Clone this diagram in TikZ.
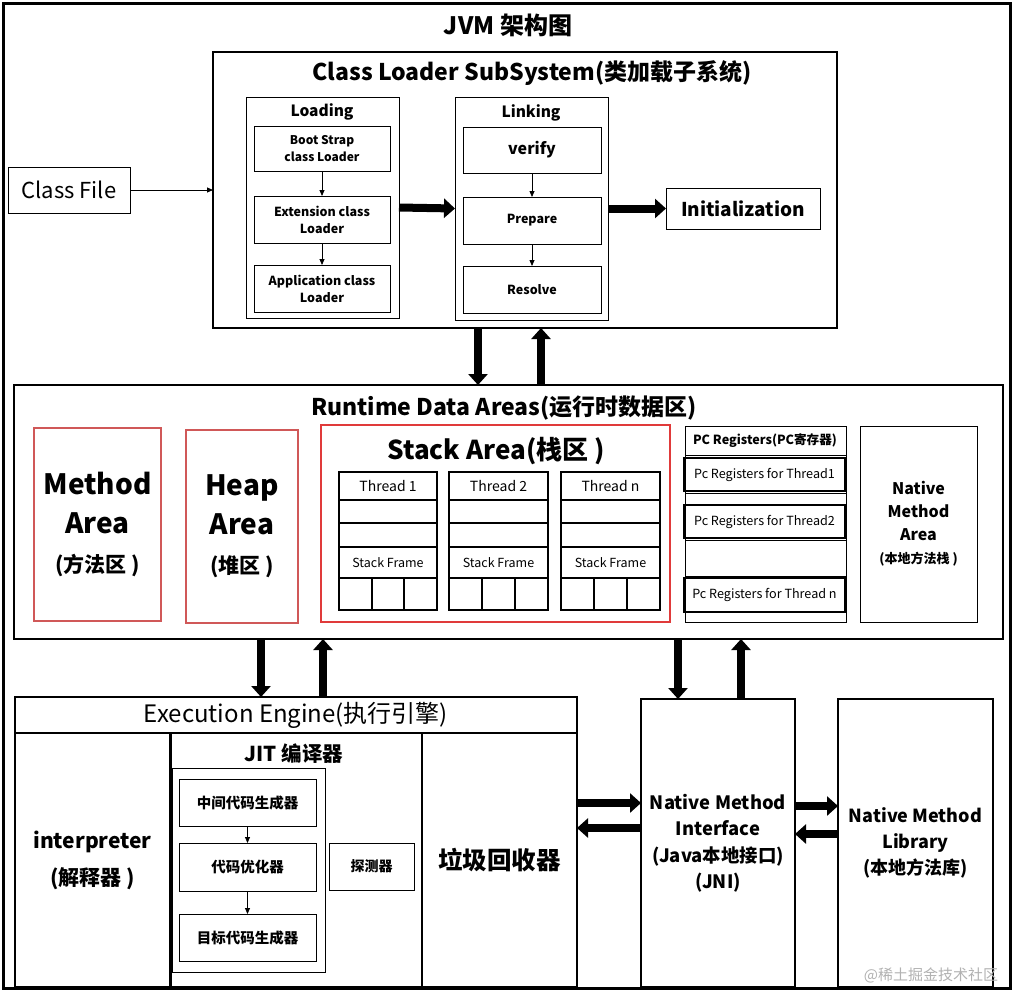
\documentclass[tikz,border=0pt]{standalone}
\usepackage{fontspec}
\setmainfont{Noto Sans CJK SC}
\usetikzlibrary{arrows.meta}
\definecolor{rdk}{HTML}{E03A3A}
\definecolor{rdl}{HTML}{D05858}
\newcommand\fs[2]{\fontsize{#1}{#2}\selectfont}
\newcommand\bxt[7][]{\node[bx,#1,minimum width={#4-#2},minimum height={#5-#3}] (#6) at ({(#2+#4)/2},{(#3+#5)/2}) {#7};}
\newcommand\thr[4]{%
  \pgfmathsetmacro\ca{#2+(#3-#2)/3}%
  \pgfmathsetmacro\cb{#2+2*(#3-#2)/3}%
  \bxt[tb,font=\fs{14}{16}]{#2}{472}{#3}{500}{#1h}{#4}
  \bxt[tb]{#2}{500}{#3}{523}{#1a}{}
  \bxt[tb]{#2}{523}{#3}{547}{#1b}{}
  \bxt[tb,font=\fs{12.5}{15}]{#2}{547}{#3}{578}{#1f}{Stack Frame}
  \bxt[tb]{#2}{578}{\ca}{610}{#1c}{}
  \bxt[tb]{\ca}{578}{\cb}{610}{#1d}{}
  \bxt[tb]{\cb}{578}{#3}{610}{#1e}{}
}
\begin{document}
\begin{tikzpicture}[x=1pt,y=-1pt,
  bx/.style={draw,line width=1pt,inner sep=0pt,outer sep=0pt,align=center},
  bxk/.style={line width=2.5pt},
  tb/.style={line width=2pt},
  redb/.style={draw=rdl,line width=1.3pt},
  redk/.style={draw=rdk,line width=2.2pt},
  big/.style={line width=8pt,-{Triangle[width=19pt,length=11pt]}},
  small/.style={line width=0.8pt,-{Triangle[width=5pt,length=6pt]}},
  lbl/.style={inner sep=0pt,align=center}]
\fill[white] (0,0) rectangle (1017,991);
\useasboundingbox (0,0) rectangle (1017,991);
% outer frame
\bxt[line width=3pt]{3}{3}{1010}{988}{jvm}{}
\node[lbl,font=\fs{24}{28}\bfseries] (title) at (508,25) {JVM 架构图};
% class loader
\bxt[bxk]{213}{52}{837}{328}{cls}{}
\node[lbl,font=\fs{23}{26}\bfseries] (clst) at (532,73) {Class Loader SubSystem(类加载子系统)};
\bxt{246}{97}{399}{318}{load}{}
\node[lbl,font=\fs{15.5}{18}\bfseries] (loadt) at (322,112) {Loading};
\bxt[font=\fs{12}{17}\bfseries]{254}{126}{390}{171}{boot}{Boot Strap\\class Loader}
\bxt[font=\fs{12.5}{17}\bfseries]{254}{196}{390}{243}{ext}{Extension class\\Loader}
\bxt[font=\fs{12.5}{17}\bfseries]{254}{265}{390}{312}{app}{Application class\\Loader}
\bxt{455}{97}{608}{320}{link}{}
\node[lbl,font=\fs{15.5}{18}\bfseries] (linkt) at (531,113) {Linking};
\bxt[font=\fs{16}{18}\bfseries]{463}{127}{601}{173}{ver}{verify}
\bxt[font=\fs{12.5}{16}\bfseries]{463}{197}{601}{244}{prep}{Prepare}
\bxt[font=\fs{12.5}{16}\bfseries]{463}{266}{601}{313}{res}{Resolve}
\bxt[font=\fs{19}{24}\bfseries]{666}{188}{820}{229}{init}{Initialization}
\bxt[font=\fs{22}{26}]{8}{167}{130}{213}{cf}{Class File}
% runtime
\bxt[bxk]{14}{385}{1003}{639}{rt}{}
\node[lbl,font=\fs{23}{26}\bfseries] (rtt) at (504,408) {Runtime Data Areas(运行时数据区)};
\bxt[redb,font=\fs{28}{39}\bfseries]{34}{428}{161}{621}{meth}{Method\\Area\\\fs{21}{28}(方法区 )}
\bxt[redb,font=\fs{28}{39}\bfseries]{186}{430}{298}{623}{heap}{Heap\\Area\\\fs{21}{28}(堆区 )}
\bxt[redk]{321}{425}{670}{622}{stack}{}
\node[lbl,font=\fs{26}{30}\bfseries] (stackt) at (496,451) {Stack Area(栈区 )};
\thr{ta}{339}{437}{Thread 1}
\thr{tb}{449}{548}{Thread 2}
\thr{tn}{561}{660}{Thread n}
% pc registers
\bxt{685}{426}{846}{455}{pch}{}
\bxt{685}{455}{846}{493}{pcr1}{}
\bxt{685}{493}{846}{540}{pcr2}{}
\bxt{685}{540}{846}{576}{pcr3}{}
\bxt{685}{576}{846}{622}{pcr4}{}
\node[lbl,font=\fs{12.6}{14}\bfseries] (pct) at (765,441) {PC Registers(PC寄存器)};
\bxt[tb,font=\fs{12.6}{14}]{684}{458}{845}{491}{pc1}{Pc Registers for Thread1}
\bxt[tb,font=\fs{12.6}{14}]{684}{505}{845}{538}{pc2}{Pc Registers for Thread2}
\bxt[tb,font=\fs{12.6}{14}]{684}{578}{845}{612}{pcn}{Pc Registers for Thread n}
\bxt[font=\fs{16}{23}\bfseries]{860}{426}{977}{622}{nma}{Native\\Method\\Area\\\fs{13}{22}(本地方法栈 )}
% execution engine
\bxt[bxk]{15}{697}{577}{987}{ee}{}
\bxt[bxk,font=\fs{24}{26}]{15}{697}{577}{733}{eeh}{Execution Engine(执行引擎)}
\bxt[bxk,font=\fs{21}{37}\bfseries]{15}{733}{170}{987}{interp}{interpreter\\(解释器 )}
\bxt[line width=1.5pt]{170}{733}{422}{987}{jit}{}
\node[lbl,font=\fs{20.5}{22}\bfseries] (jitt) at (294,754) {JIT 编译器};
\bxt{172}{768}{325}{972}{jitin}{}
\bxt[font=\fs{14.5}{16}\bfseries]{179}{779}{316}{826}{j1}{中间代码生成器}
\bxt[font=\fs{14.5}{16}\bfseries]{179}{843}{316}{891}{j2}{代码优化器}
\bxt[font=\fs{14.5}{16}\bfseries]{179}{914}{316}{961}{j3}{目标代码生成器}
\bxt[font=\fs{14}{16}\bfseries]{329}{843}{414}{890}{probe}{探测器}
\bxt[line width=1.5pt,font=\fs{24.5}{26}\bfseries]{422}{733}{577}{987}{gc}{垃圾回收器}
\draw[line width=3pt] (interp.north east) -- (interp.south east);
\draw[line width=2.5pt] (ee.north west) rectangle (ee.south east);
% native
\bxt[bxk,font=\fs{18.4}{26.5}\bfseries]{641}{699}{795}{987}{nmi}{Native Method\\Interface\\(Java本地接口)\\(JNI)}
\bxt[bxk,font=\fs{18}{26}\bfseries]{838}{699}{993}{987}{nml}{Native Method\\Library\\(本地方法库)}
\node[lbl,text=black!30,font=\fs{15}{18}] (wm) at (931,975) {@稀土掘金技术社区};
% arrows
\draw[small] (cf.east) -- (cls.west);
\draw[small] (boot) -- (ext);
\draw[small] (ext) -- (app);
\draw[small] (ver) -- (prep);
\draw[small] (prep) -- (res);
\draw[small] (j1) -- (j2);
\draw[small] (j2) -- (j3);
\draw[big] (load.east) -- (link.west);
\draw[big] (link.east) -- (init.west);
\draw[big] ([xshift=-47pt]cls.south) -- ([xshift=-30.5pt]rt.north);
\draw[big] ([xshift=32.5pt]rt.north) -- ([xshift=16pt]cls.south);
\draw[big] ([xshift=-247.5pt]rt.south) -- ([xshift=-35pt]ee.north);
\draw[big] ([xshift=27pt]ee.north) -- ([xshift=-185.5pt]rt.south);
\draw[big] ([xshift=169.5pt]rt.south) -- ([xshift=-40pt]nmi.north);
\draw[big] ([xshift=23pt]nmi.north) -- ([xshift=232.5pt]rt.south);
\draw[big] ([yshift=39pt]ee.east) -- ([yshift=40pt]nmi.west);
\draw[big] ([yshift=15pt]nmi.west) -- ([yshift=14pt]ee.east);
\draw[big] ([yshift=37pt]nmi.east) -- ([yshift=37pt]nml.west);
\draw[big] ([yshift=9pt]nml.west) -- ([yshift=9pt]nmi.east);
\end{tikzpicture}
\end{document}
